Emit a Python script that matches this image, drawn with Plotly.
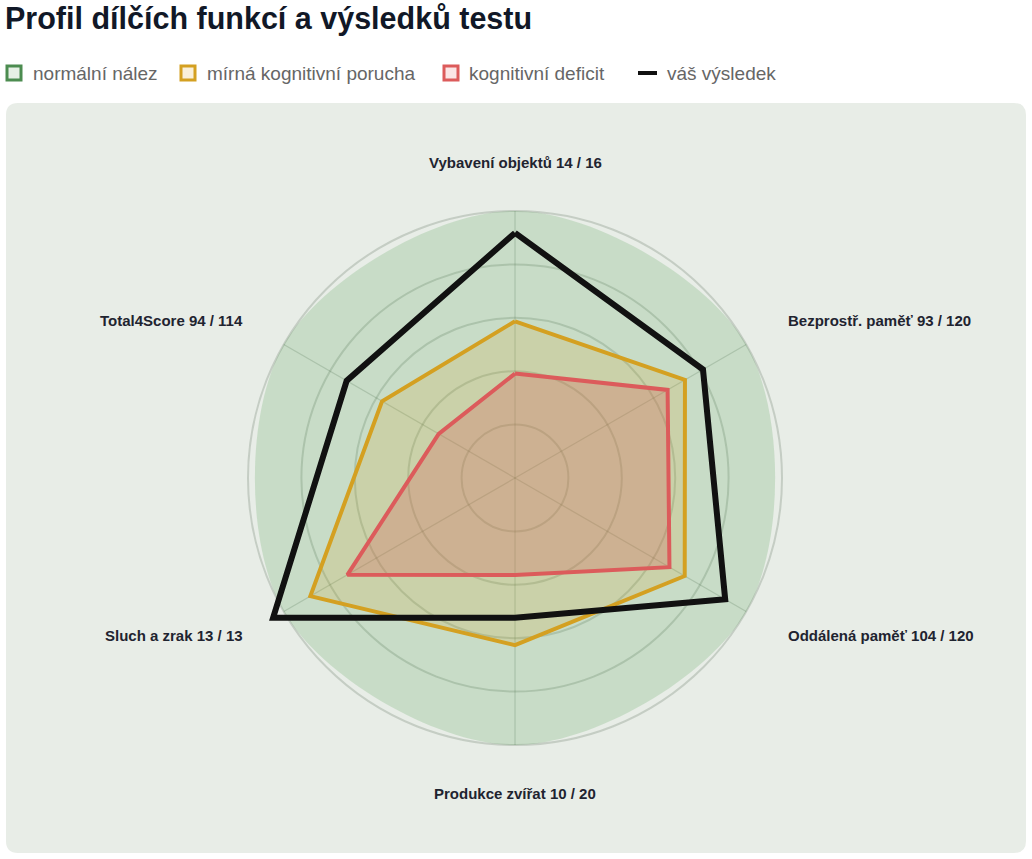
import plotly.graph_objects as go
import numpy as np

# ---------------- data ----------------
categories = ["Vybavení objektů", "Bezprostř. paměť", "Oddálená paměť",
              "Produkce zvířat", "Sluch a zrak", "Total4Score"]
scores = ["14 / 16", "93 / 120", "104 / 120", "10 / 20", "13 / 13", "94 / 114"]
normal_vals = [100, 100, 100, 100, 100, 100]
mild_vals = [58.7, 73.5, 73.4, 62.6, 88.5, 57.5]
deficit_vals = [39.1, 66.0, 66.8, 36.3, 72.5, 33.0]
result_vals = [91.8, 81.3, 90.9, 52.3, 104.6, 72.8]
legend_names = ["normální nález", "mírná kognitivní porucha", "kognitivní deficit", "váš výsledek"]
title_text = "Profil dílčích funkcí a výsledků testu"
ring_ticks = [20, 40, 60, 80, 100]

# ---------------- geometry helpers ----------------
W, H = 1032, 859
def px(x):
    return x / W
def py(y):
    return 1 - y / H

CX, CY = 515, 478          # centre of radar in pixels
UNIT = 2.67                # pixels per radial unit
RMAX = 110                 # radial range max
R_OUT = RMAX * UNIT

def closed(v):
    return list(v) + [v[0]]

theta = closed(categories)

fig = go.Figure()

# spokes (angular grid) drawn only up to 100
spoke_r, spoke_t = [], []
for c in categories:
    spoke_r += [0, 100, None]
    spoke_t += [c, c, c]
fig.add_trace(go.Scatterpolar(r=spoke_r, theta=spoke_t, mode="lines",
                              line=dict(color="rgba(90,110,90,0.25)", width=1.3),
                              connectgaps=False, hoverinfo="skip", showlegend=False))

fig.add_trace(go.Scatterpolar(r=closed(normal_vals), theta=theta, mode="lines",
                              fill="toself", fillcolor="rgba(76,153,76,0.2)",
                              line=dict(color="rgba(0,0,0,0)", width=0, shape="spline", smoothing=1),
                              name=legend_names[0], showlegend=False))
fig.add_trace(go.Scatterpolar(r=closed(mild_vals), theta=theta, mode="lines",
                              fill="toself", fillcolor="rgba(212,160,32,0.18)",
                              line=dict(color="#d4a021", width=4),
                              name=legend_names[1], showlegend=False))
fig.add_trace(go.Scatterpolar(r=closed(deficit_vals), theta=theta, mode="lines",
                              fill="toself", fillcolor="rgba(217,83,79,0.25)",
                              line=dict(color="#dc5b5b", width=4),
                              name=legend_names[2], showlegend=False))
fig.add_trace(go.Scatterpolar(r=closed(result_vals), theta=theta, mode="lines",
                              line=dict(color="#111111", width=6),
                              name=legend_names[3], showlegend=False))

fig.update_layout(
    width=W, height=H,
    margin=dict(l=0, r=0, t=0, b=0),
    paper_bgcolor="white",
    showlegend=False,
    polar=dict(
        domain=dict(x=[px(CX - R_OUT), px(CX + R_OUT)], y=[py(CY + R_OUT), py(CY - R_OUT)]),
        bgcolor="rgba(0,0,0,0)",
        radialaxis=dict(range=[0, RMAX], tickvals=ring_ticks, showticklabels=False,
                        ticks="", showline=False,
                        gridcolor="rgba(90,110,90,0.25)", gridwidth=1.5),
        angularaxis=dict(type="category", categoryarray=categories, direction="clockwise",
                         rotation=90, showticklabels=False, ticks="", showline=False,
                         showgrid=False),
    ),
)

# panel background (rounded rectangle)
x0, x1, y0, y1, rad = 6, 1026, 103, 853, 12
rx, ry = rad / W, rad / H
path = (f"M{px(x0)+rx},{py(y0)} L{px(x1)-rx},{py(y0)} Q{px(x1)},{py(y0)} {px(x1)},{py(y0)-ry} "
        f"L{px(x1)},{py(y1)+ry} Q{px(x1)},{py(y1)} {px(x1)-rx},{py(y1)} "
        f"L{px(x0)+rx},{py(y1)} Q{px(x0)},{py(y1)} {px(x0)},{py(y1)+ry} "
        f"L{px(x0)},{py(y0)-ry} Q{px(x0)},{py(y0)} {px(x0)+rx},{py(y0)} Z")
fig.add_shape(type="path", path=path, xref="paper", yref="paper",
              fillcolor="#e8ede7", line=dict(width=0), layer="below")

# title
fig.add_annotation(text=title_text, xref="paper", yref="paper", x=px(3), y=py(19),
                   xanchor="left", yanchor="middle", showarrow=False,
                   font=dict(family="Liberation Sans, Arial, sans-serif", size=30.5,
                             color="#111827", weight="bold"))

# custom legend
leg_font = dict(family="Liberation Sans, Arial, sans-serif", size=19, color="#666666")
box_x = [7, 181, 444]
box_line = ["#4c8c50", "#d4a021", "#dc5b5b"]
box_fill = ["#e7f0e6", "#faf0da", "#fbe5e5"]
text_x = [31, 205, 467, 665]
LY = 73
for bx, bl, bf in zip(box_x, box_line, box_fill):
    fig.add_shape(type="rect", xref="paper", yref="paper",
                  x0=px(bx), x1=px(bx + 14), y0=py(LY + 7), y1=py(LY - 7),
                  fillcolor=bf, line=dict(color=bl, width=3))
fig.add_shape(type="line", xref="paper", yref="paper", x0=px(638), x1=px(657),
              y0=py(LY), y1=py(LY), line=dict(color="#111111", width=4))
for tx, name in zip(text_x, legend_names):
    fig.add_annotation(text=name, xref="paper", yref="paper", x=px(tx), y=py(LY),
                       xanchor="left", yanchor="middle", showarrow=False, font=leg_font)

# axis labels placed around the radar
lab_font = dict(family="Liberation Sans, Arial, sans-serif", size=15, color="#1f2430",
                weight="bold")
LABEL_R = 315
angles = 90 - np.arange(len(categories)) * 360 / len(categories)
for ang, cat, sc in zip(angles, categories, scores):
    a = np.deg2rad(ang)
    lx = CX + LABEL_R * np.cos(a)
    ly = CY - LABEL_R * np.sin(a)
    if abs(np.cos(a)) < 1e-6:
        xa = "center"
    elif np.cos(a) > 0:
        xa = "left"
        lx -= 2
    else:
        xa = "right"
        lx += 3
    fig.add_annotation(text=f"{cat} {sc}", xref="paper", yref="paper", x=px(lx), y=py(ly),
                       xanchor=xa, yanchor="middle", showarrow=False, font=lab_font)

fig.write_html("out.html", config={"displayModeBar": False},
               post_script="document.body.style.margin='0px';")
